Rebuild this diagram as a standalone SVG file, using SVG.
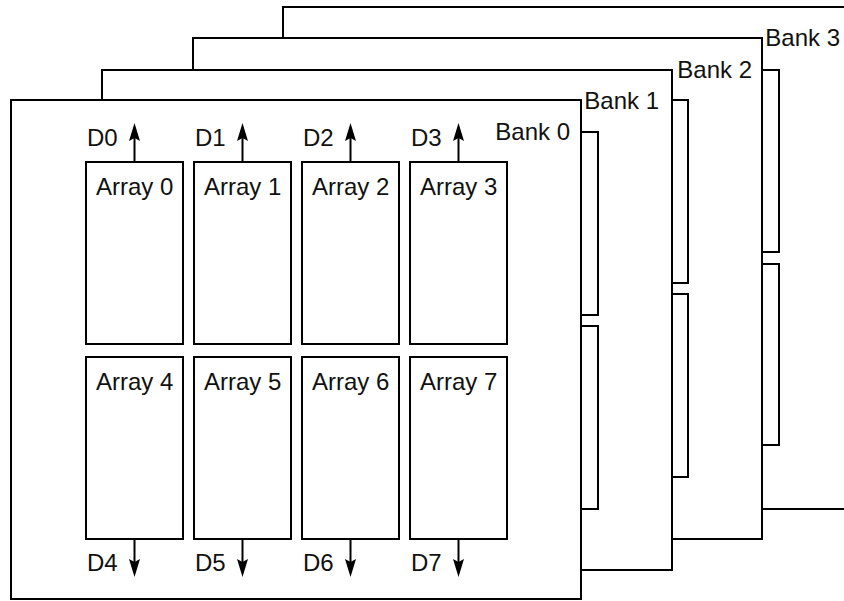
<svg xmlns="http://www.w3.org/2000/svg" width="844" height="601" viewBox="0 0 844 601">
<style>
.bank{fill:#fff;stroke:#000;stroke-width:2}
.br{fill:none;stroke:#000;stroke-width:2}
.arr{fill:#fff;stroke:#000;stroke-width:2}
.t{font-family:"Liberation Sans",Arial,Helvetica,sans-serif;font-size:24px;fill:#111}
.e{text-anchor:end}
.c{stroke:#000;stroke-width:2;fill:none;marker-end:url(#ah)}
</style>
<defs>
<marker id="ah" viewBox="0 0 18 12" refX="3" refY="6" markerWidth="18" markerHeight="12" markerUnits="userSpaceOnUse" orient="auto">
<path d="M0,0.5 L18,6 L0,11.5 L3,6 Z" fill="#000"/>
</marker>
</defs>
<rect width="844" height="601" fill="#fff"/>
<g id="bank3">
<rect class="bank" x="283" y="7" width="575" height="502"/>
<text class="t e" x="840" y="46">Bank 3</text>
</g>
<g id="bank2">
<rect class="bank" x="193" y="38" width="569" height="501"/>
<rect class="br" x="762" y="70" width="17" height="182"/>
<rect class="br" x="762" y="264" width="17" height="181"/>
<text class="t e" x="752" y="78">Bank 2</text>
</g>
<g id="bank1">
<rect class="bank" x="102" y="70" width="570" height="500"/>
<rect class="br" x="672" y="100" width="16" height="183"/>
<rect class="br" x="672" y="294" width="16" height="183"/>
<text class="t e" x="659" y="109">Bank 1</text>
</g>
<g id="bank0">
<rect class="bank" x="11" y="100" width="570" height="499"/>
<rect class="br" x="581" y="132" width="17" height="183"/>
<rect class="br" x="581" y="326" width="17" height="183"/>
<text class="t e" x="570" y="140">Bank 0</text>
</g>
<g id="array0"><rect class="arr" x="86" y="162" width="97" height="182"/><text class="t" x="96" y="195">Array 0</text></g>
<g id="array1"><rect class="arr" x="194" y="162" width="97" height="182"/><text class="t" x="204" y="195">Array 1</text></g>
<g id="array2"><rect class="arr" x="302" y="162" width="97" height="182"/><text class="t" x="312" y="195">Array 2</text></g>
<g id="array3"><rect class="arr" x="410" y="162" width="97" height="182"/><text class="t" x="420" y="195">Array 3</text></g>
<g id="array4"><rect class="arr" x="86" y="357" width="97" height="182"/><text class="t" x="96" y="390">Array 4</text></g>
<g id="array5"><rect class="arr" x="194" y="357" width="97" height="182"/><text class="t" x="204" y="390">Array 5</text></g>
<g id="array6"><rect class="arr" x="302" y="357" width="97" height="182"/><text class="t" x="312" y="390">Array 6</text></g>
<g id="array7"><rect class="arr" x="410" y="357" width="97" height="182"/><text class="t" x="420" y="390">Array 7</text></g>
<g id="connectors">
<line class="c" x1="134.5" y1="162" x2="134.5" y2="138"/>
<line class="c" x1="242.5" y1="162" x2="242.5" y2="138"/>
<line class="c" x1="350.5" y1="162" x2="350.5" y2="138"/>
<line class="c" x1="458.5" y1="162" x2="458.5" y2="138"/>
<line class="c" x1="134.5" y1="539" x2="134.5" y2="562"/>
<line class="c" x1="242.5" y1="539" x2="242.5" y2="562"/>
<line class="c" x1="350.5" y1="539" x2="350.5" y2="562"/>
<line class="c" x1="458.5" y1="539" x2="458.5" y2="562"/>
<text class="t" x="87" y="146">D0</text>
<text class="t" x="195" y="146">D1</text>
<text class="t" x="303" y="146">D2</text>
<text class="t" x="411" y="146">D3</text>
<text class="t" x="87" y="571">D4</text>
<text class="t" x="195" y="571">D5</text>
<text class="t" x="303" y="571">D6</text>
<text class="t" x="411" y="571">D7</text>
</g>
</svg>
